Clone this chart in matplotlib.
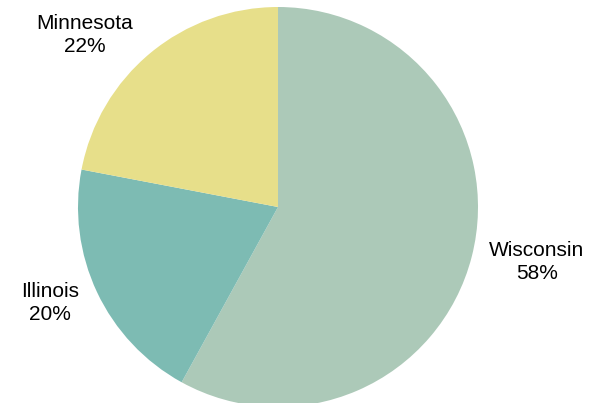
import matplotlib.pyplot as plt

# ── Data ────────────────────────────────────────────────────────
states = ['Wisconsin', 'Illinois', 'Minnesota']
shares = [58, 20, 22]
colors = ['#acc9b8', '#7dbbb3', '#e7df8a']

# label block centres (in pie-radius units)
label_pos = [(1.295, -0.275), (-1.14, -0.48), (-0.965, 0.86)]

plt.rcParams['font.family'] = ['Liberation Sans', 'DejaVu Sans']

fig = plt.figure(figsize=(5.94, 4.03), dpi=100)
ax = fig.add_axes([78 / 594, -4 / 403, 400 / 594, 400 / 403])

ax.pie(shares, colors=colors, startangle=90, counterclock=False,
       wedgeprops=dict(linewidth=0))
ax.set_xlim(-1, 1)
ax.set_ylim(-1, 1)
ax.set_aspect('equal')
ax.axis('off')

for name, val, (x, y) in zip(states, shares, label_pos):
    ax.text(x, y, f'{name}\n{val}%', ha='center', va='center',
            fontsize=15, linespacing=1.25, color='black')

fig.savefig('out.png', dpi=100)
